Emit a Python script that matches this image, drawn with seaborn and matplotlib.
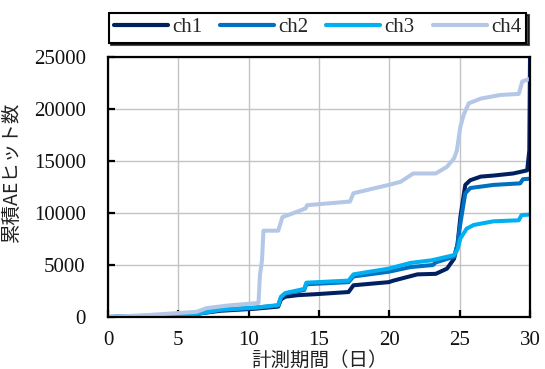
import numpy as np
import pandas as pd
import matplotlib
matplotlib.use("Agg")
import matplotlib.pyplot as plt
import seaborn as sns

# Cumulative AE hit counts per channel over the measurement period (days)
ch1_days = [0, 5, 6.3, 8, 10.5, 12.1, 12.3, 12.6, 13.5, 14.85, 17.1, 17.45, 19.95,
            20.3, 22.0, 23.3, 24.1, 24.6, 24.85, 25.05, 25.4, 25.75, 26.5, 27.4,
            28.8, 29.8, 29.95, 30]
ch1_hits = [0, 200, 300, 600, 800, 1000, 1700, 1950, 2100, 2200, 2400, 3050, 3350,
            3500, 4100, 4150, 4650, 5600, 7000, 9600, 12700, 13150, 13500, 13600,
            13800, 14100, 16000, 25000]

ch2_days = [0, 5, 6.3, 8, 10.5, 12.1, 12.3, 12.6, 13.95, 14.1, 17.1, 17.45, 19.95,
            21.5, 23.1, 23.3, 24.6, 24.85, 25.05, 25.4, 25.75, 27.4, 29.3, 29.5, 30]
ch2_hits = [0, 150, 300, 700, 900, 1100, 1900, 2250, 2600, 3150, 3350, 3900, 4350,
            4800, 5000, 5250, 5800, 7000, 9000, 11900, 12400, 12700, 12850, 13250, 13300]

ch3_days = [0, 5, 6.3, 8, 10.5, 12.1, 12.3, 12.6, 13.95, 14.1, 17.1, 17.45, 19.95,
            21.5, 23, 24.6, 24.85, 25.05, 25.5, 26, 27.4, 29.2, 29.4, 30]
ch3_hits = [0, 150, 300, 700, 900, 1150, 1950, 2300, 2700, 3300, 3500, 4100, 4650,
            5200, 5450, 5950, 6500, 7550, 8500, 8850, 9200, 9300, 9800, 9850]

ch4_days = [0, 3, 6.3, 7, 8.5, 10.7, 10.8, 10.95, 11.05, 12.1, 12.4, 13.6, 14.05,
            14.15, 17.2, 17.45, 19.95, 20.8, 21.7, 23.3, 24.1, 24.6, 24.8, 25.05,
            25.3, 25.65, 26.5, 27.9, 29.2, 29.45, 30]
ch4_hits = [0, 200, 500, 850, 1100, 1350, 4000, 5500, 8300, 8300, 9600, 10200, 10450,
            10750, 11100, 11900, 12700, 13000, 13800, 13800, 14450, 15250, 16000, 18300,
            19500, 20550, 21000, 21350, 21450, 22650, 22900]

channels = ["ch1", "ch2", "ch3", "ch4"]
colors = ["#002060", "#0070c0", "#00b0f0", "#b4c7e7"]
x_ticks = [0, 5, 10, 15, 20, 25, 30]
y_ticks = [0, 5000, 10000, 15000, 20000, 25000]

frames = []
for name, d, h in zip(channels,
                      [ch1_days, ch2_days, ch3_days, ch4_days],
                      [ch1_hits, ch2_hits, ch3_hits, ch4_hits]):
    frames.append(pd.DataFrame({"day": d, "hits": h, "ch": name, "order": range(len(d))}))
df = pd.concat(frames, ignore_index=True)

sns.set_theme(style="white")
plt.rcParams["font.family"] = ["Liberation Serif", "Noto Sans CJK JP"]
plt.rcParams["axes.unicode_minus"] = False

fig = plt.figure(figsize=(5.45, 3.69), dpi=100)
ax = fig.add_axes([108 / 545, 1 - 317 / 369, 422 / 545, 260 / 369])

sns.lineplot(data=df, x="day", y="hits", hue="ch", hue_order=channels,
             palette=colors, estimator=None, sort=False, units="ch",
             linewidth=2.9, ax=ax, legend=True)
for line in ax.lines:
    line.set_solid_joinstyle("round")

ax.set_xlim(0, 30)
ax.set_ylim(0, 25000)
ax.set_xticks(x_ticks)
ax.set_yticks(y_ticks)
ax.set_xticklabels([str(t) for t in x_ticks])
ax.set_yticklabels([str(t) for t in y_ticks])
ax.grid(True, color="#c4c4c4", linewidth=1.0)
ax.set_axisbelow(True)

for s in ax.spines.values():
    s.set_color("black")
    s.set_linewidth(1.6)
    s.set_visible(True)

ax.tick_params(axis="both", which="major", direction="in", length=5, width=1.6,
               color="black", labelsize=15, labelcolor="#111111")
ax.tick_params(axis="x", pad=10)
ax.tick_params(axis="y", pad=16, left=True)
ax.tick_params(axis="x", bottom=True)

ax.set_xlabel("計測期間（日）", fontsize=14, color="#222222",
              family=["Noto Sans CJK JP", "Liberation Serif"])
ax.xaxis.set_label_coords(0.5, -0.125)
ax.set_ylabel("累積AEヒット数", fontsize=14, color="#222222",
              family=["Noto Sans CJK JP", "Liberation Serif"])
ax.yaxis.set_label_coords(-0.205, 0.56)

handles, labels = ax.get_legend_handles_labels()
leg = ax.legend(handles, labels, ncol=4, loc="center",
                bbox_to_anchor=((107 + 528) / 2 / 545, 1 - 27.5 / 369),
                bbox_transform=fig.transFigure, frameon=True, fancybox=False,
                fontsize=15, handlelength=2.6, handletextpad=0.2,
                columnspacing=0.85, borderpad=0.25, borderaxespad=0,
                shadow={"ox": 2, "oy": -2, "color": "black", "alpha": 0.7})
leg.get_frame().set_edgecolor("black")
leg.get_frame().set_linewidth(1.5)
for lh in leg.get_lines():
    lh.set_linewidth(3.0)

fig.savefig("out.png", dpi=100)
